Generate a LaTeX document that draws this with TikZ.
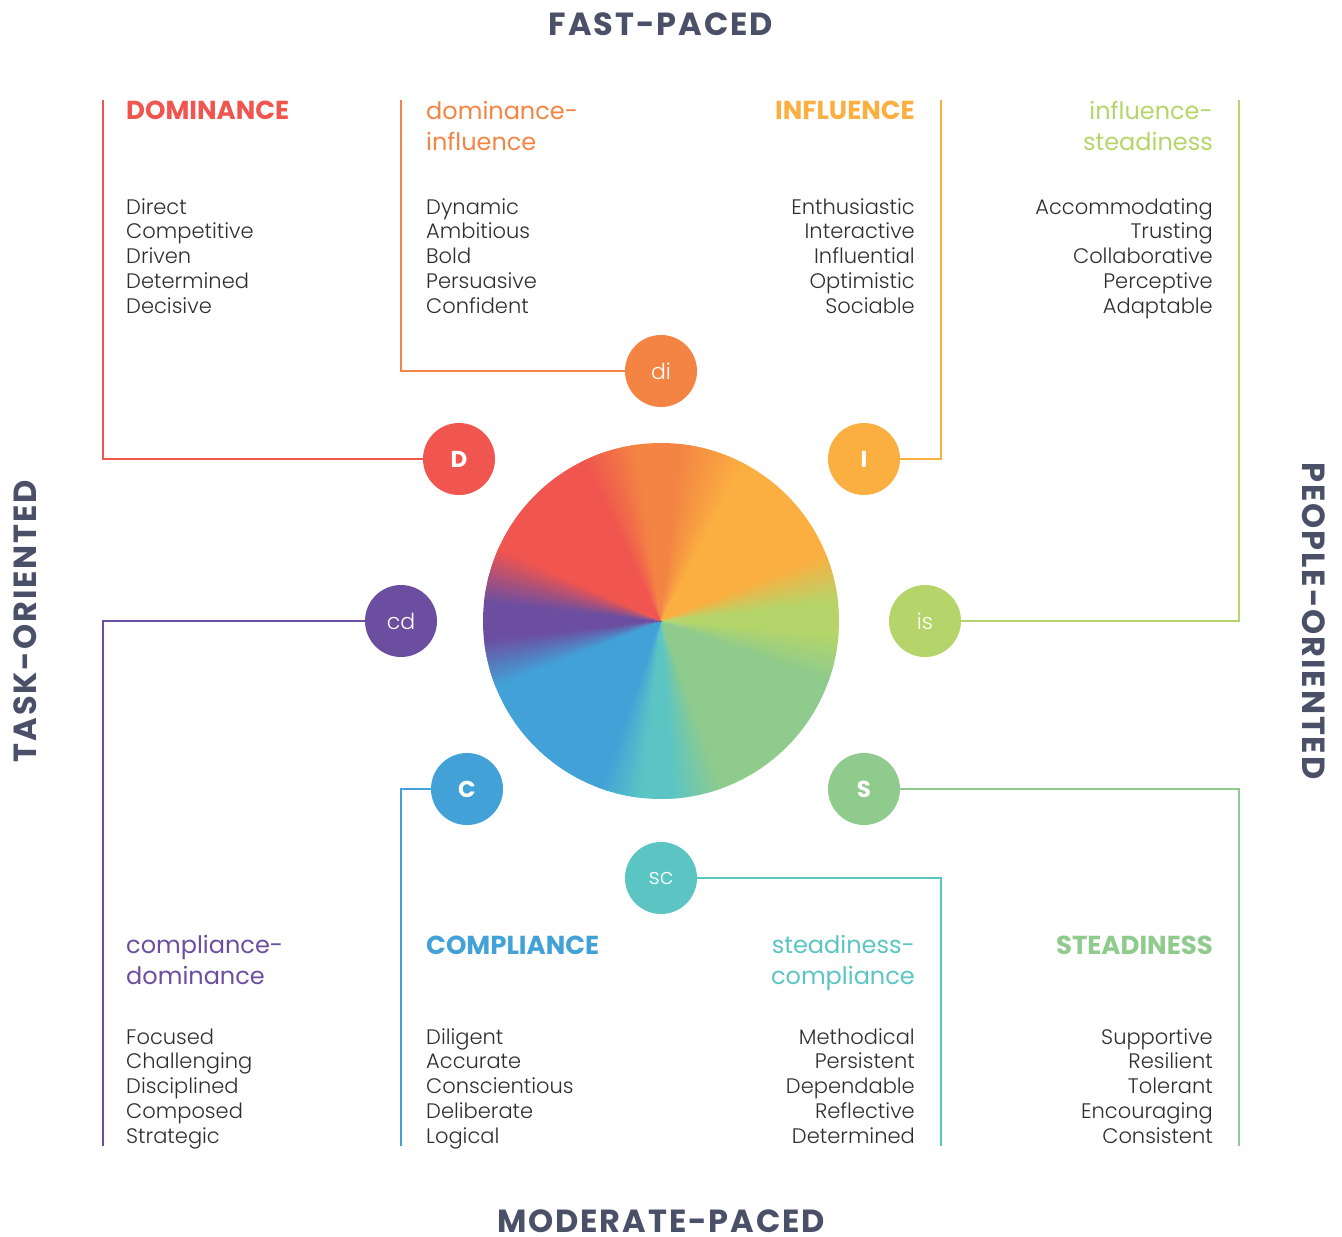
\documentclass[tikz,border=0pt]{standalone}
\usepackage{fontspec}
\setmainfont{Poppins}
\newfontfamily\lightfont{Poppins Light}
\definecolor{cD}{HTML}{F0554F}
\definecolor{cDI}{HTML}{F38443}
\definecolor{cI}{HTML}{FBAF41}
\definecolor{cIS}{HTML}{B5D56A}
\definecolor{cS}{HTML}{8FCB8D}
\definecolor{cSC}{HTML}{5BC5C4}
\definecolor{cC}{HTML}{42A2D8}
\definecolor{cCD}{HTML}{6C4EA0}
\definecolor{axisc}{HTML}{4A5068}
\definecolor{txt}{HTML}{2E2E2E}
\newcommand\wseg[4]{%
  \pgfmathtruncatemacro\wn{#2-#1}%
  \foreach \k in {1,...,\wn}{%
    \pgfmathtruncatemacro\wp{100*(\k-0.5)/\wn}%
    \pgfmathsetmacro\wa{#1+\k-1-90}%
    \pgfmathsetmacro\wb{#1+\k-90+0.7}%
    \fill[#4!\wp!#3] (661,621) -- ++(\wa:178) arc[start angle=\wa,end angle=\wb,radius=178] -- cycle;
  }}
\newcommand\whold[3]{%
  \pgfmathsetmacro\wa{#1-90}%
  \pgfmathsetmacro\wb{#2-90+0.7}%
  \fill[#3] (661,621) -- ++(\wa:178) arc[start angle=\wa,end angle=\wb,radius=178] -- cycle;}
\begin{document}
\begin{tikzpicture}[x=1pt,y=-1pt,
  badge/.style={circle,minimum size=72pt,inner sep=0pt,text=white,font=\fontsize{23}{23}\selectfont},
  badgel/.style={badge,font=\fontsize{22}{22}\lightfont},
  link/.style={line width=2pt},
  desc/.style={inner sep=0pt,text=txt,font=\fontsize{21}{24.9}\lightfont},
  headb/.style={inner sep=0pt,font=\fontsize{26}{31}\selectfont\bfseries},
  headl/.style={inner sep=0pt,font=\fontsize{24}{30.5}\selectfont},
  axislbl/.style={inner sep=0pt,text depth=0pt,text=axisc,font=\fontsize{32}{32}\selectfont\bfseries\addfontfeature{LetterSpace=6}}]
\useasboundingbox (0,0) rectangle (1342,1237);
% colour wheel
\whold{-8}{6}{cDI}
\wseg{6}{28}{cDI}{cI}
\whold{28}{68}{cI}
\wseg{68}{84}{cI}{cIS}
\whold{84}{94}{cIS}
\wseg{94}{110}{cIS}{cS}
\whold{110}{160}{cS}
\wseg{160}{176}{cS}{cSC}
\whold{176}{186}{cSC}
\wseg{186}{200}{cSC}{cC}
\whold{200}{248}{cC}
\wseg{248}{264}{cC}{cCD}
\whold{264}{276}{cCD}
\wseg{276}{294}{cCD}{cD}
\whold{294}{334}{cD}
\wseg{334}{352}{cD}{cDI}
% badges
\node[badge,fill=cD]   (D)  at (459,459) {\bfseries D};
\node[badgel,fill=cDI] (DI) at (661,371) {di};
\node[badge,fill=cI]   (I)  at (864,459) {\bfseries I};
\node[badgel,fill=cIS] (IS) at (925,621) {is};
\node[badge,fill=cS]   (S)  at (864,789) {\bfseries S};
\node[badgel,fill=cSC] (SC) at (661,878) {sc};
\node[badge,fill=cC]   (C)  at (467,789) {\bfseries C};
\node[badgel,fill=cCD] (CD) at (401,621) {cd};
% line ends
\coordinate (Dt)  at (103,100);
\coordinate (DIt) at (401,100);
\coordinate (It)  at (941,100);
\coordinate (ISt) at (1239,100);
\coordinate (CDb) at (103,1146);
\coordinate (Cb)  at (401,1146);
\coordinate (SCb) at (941,1146);
\coordinate (Sb)  at (1239,1146);
\draw[link,cD]  (D.west)  -| (Dt);
\draw[link,cDI] (DI.west) -| (DIt);
\draw[link,cI]  (I.east)  -| (It);
\draw[link,cIS] (IS.east) -| (ISt);
\draw[link,cCD] (CD.west) -| (CDb);
\draw[link,cC]  (C.west)  -| (Cb);
\draw[link,cSC] (SC.east) -| (SCb);
\draw[link,cS]  (S.east)  -| (Sb);
% headings (base = last line baseline)
\node[headb,text=cD,anchor=base west] (hD) at (126,119) {DOMINANCE};
\node[headl,text=cDI,anchor=base west,align=left] (hDI) at (426,150) {dominance-\\influence};
\node[headb,text=cI,anchor=base east] (hI) at (915,119) {INFLUENCE};
\node[headl,text=cIS,anchor=base east,align=right] (hIS) at (1213,150) {influence-\\steadiness};
\node[headl,text=cCD,anchor=base west,align=left] (hCD) at (126,984) {compliance-\\dominance};
\node[headb,text=cC,anchor=base west] (hC) at (426,954) {COMPLIANCE};
\node[headl,text=cSC,anchor=base east,align=right] (hSC) at (915,984) {steadiness-\\compliance};
\node[headb,text=cS,anchor=base east] (hS) at (1213,954) {STEADINESS};
% descriptions
\node[desc,anchor=base west,align=left] (tD) at (126,313.6) {Direct\\Competitive\\Driven\\Determined\\Decisive};
\node[desc,anchor=base west,align=left] (tDI) at (426,313.6) {Dynamic\\Ambitious\\Bold\\Persuasive\\Confident};
\node[desc,anchor=base east,align=right] (tI) at (915,313.6) {Enthusiastic\\Interactive\\Influential\\Optimistic\\Sociable};
\node[desc,anchor=base east,align=right] (tIS) at (1213,313.6) {Accommodating\\Trusting\\Collaborative\\Perceptive\\Adaptable};
\node[desc,anchor=base west,align=left] (tCD) at (126,1143.6) {Focused\\Challenging\\Disciplined\\Composed\\Strategic};
\node[desc,anchor=base west,align=left] (tC) at (426,1143.6) {Diligent\\Accurate\\Conscientious\\Deliberate\\Logical};
\node[desc,anchor=base east,align=right] (tSC) at (915,1143.6) {Methodical\\Persistent\\Dependable\\Reflective\\Determined};
\node[desc,anchor=base east,align=right] (tS) at (1213,1143.6) {Supportive\\Resilient\\Tolerant\\Encouraging\\Consistent};
% axis labels
\node[axislbl,anchor=base] (top) at (661,35) {FAST-PACED};
\node[axislbl,anchor=base] (bot) at (661,1232) {MODERATE-PACED};
\node[axislbl,rotate=90] (lft) at (25,621) {TASK-ORIENTED};
\node[axislbl,rotate=-90] (rgt) at (1314,621) {PEOPLE-ORIENTED};
\end{tikzpicture}
\end{document}
